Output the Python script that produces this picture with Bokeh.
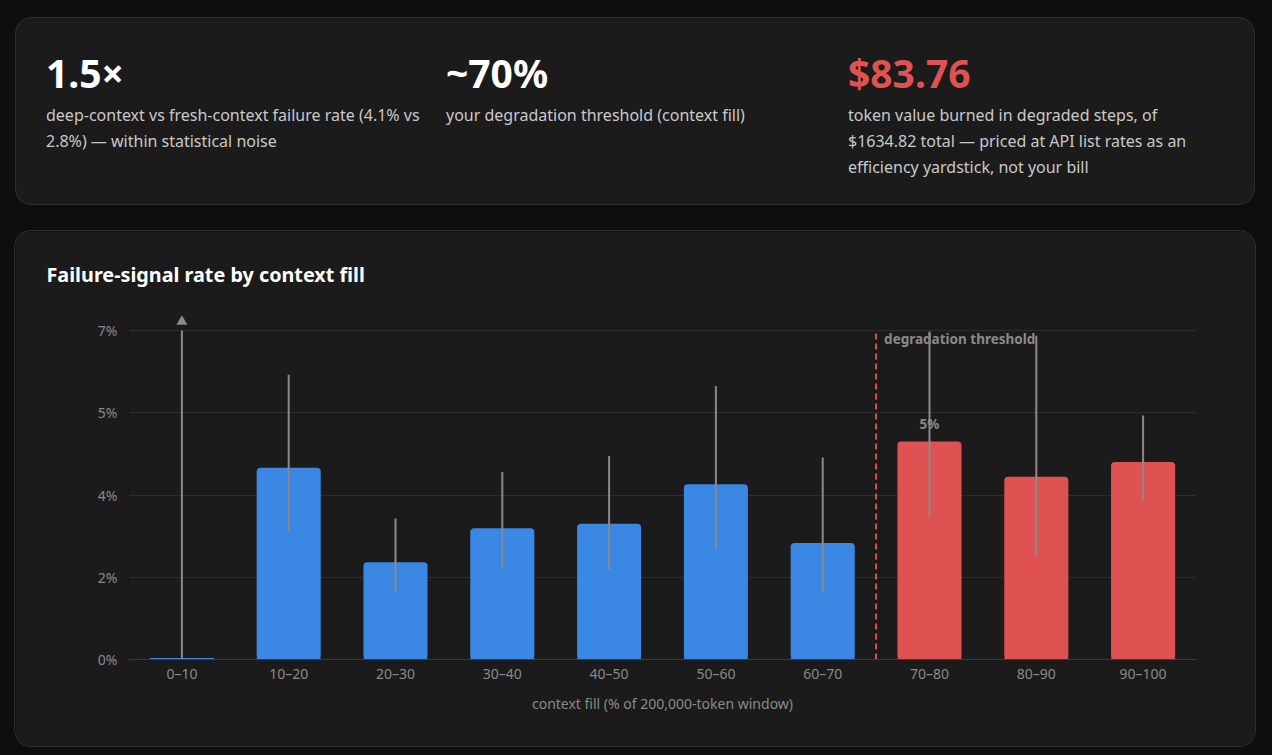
import numpy as np
from bokeh.plotting import figure
from bokeh.layouts import column
from bokeh.models import (Range1d, FactorRange, FixedTicker, CustomJSTickFormatter,
                          ColumnDataSource, Div)
from bokeh.embed import file_html
from bokeh.resources import INLINE
from bokeh.core.properties import value

# ---- data -------------------------------------------------------------
categories = ["0–10", "10–20", "20–30", "30–40", "40–50",
              "50–60", "60–70", "70–80", "80–90", "90–100"]
failure_rate = [0.0, 4.08, 2.07, 2.79, 2.89, 3.73, 2.48, 4.64, 3.89, 4.20]   # %
ci_low = [0.0, 2.74, 1.43, 1.94, 1.91, 2.37, 1.43, 3.04, 2.19, 3.38]         # %
ci_high = [9.5, 6.06, 3.00, 3.99, 4.33, 5.82, 4.30, 6.98, 6.89, 5.19]        # %
threshold_fill = 70                                                         # % of window
y_ticks = [0, 1.75, 3.5, 5.25, 7.0]

headline_values = ["1.5×", "~70%", "$83.76"]
headline_captions = [
    ["deep-context vs fresh-context failure rate (4.1% vs",
     "2.8%) — within statistical noise"],
    ["your degradation threshold (context fill)"],
    ["token value burned in degraded steps, of",
     "$1634.82 total — priced at API list rates as an",
     "efficiency yardstick, not your bill"],
]
chart_title = "Failure-signal rate by context fill"
x_label = "context fill (% of 200,000-token window)"

# ---- style ------------------------------------------------------------
PAGE = "#0e0e0e"
CARD = "#1b1b1b"
CARD_BORDER = "#2e2e2e"
BLUE = "#3a87e4"
RED = "#e05252"
MUTED = "#8a8a8a"
CAPTION = "#c9c9c9"
FONT = "Noto Sans"
AXIS_FONT_SIZE = "14px"

W, H = 1272, 755
CARD_X, CARD_W = 15, 1240
TOP_CARD_Y, TOP_CARD_H = 17, 188
CHART_CARD_Y, CHART_CARD_H = 231, 515

# plot frame, page pixels
FRAME_L, FRAME_R, FRAME_T, FRAME_B = 128, 1196, 310, 659
GRID_TOP = 330                       # pixel row of the top tick
Y_MAX = y_ticks[-1]
px_per_unit = (FRAME_B - GRID_TOP) / Y_MAX
y_end = (FRAME_B - FRAME_T) / px_per_unit

# ---- headline card -----------------------------------------------------
col_x = [30, 430, 832]
value_colors = ["#ffffff", "#ffffff", RED]
blocks = []
for x0, val, col, lines in zip(col_x, headline_values, value_colors, headline_captions):
    blocks.append(
        f'<div style="position:absolute;left:{x0}px;top:35.4px;font-size:39px;'
        f'line-height:39px;font-weight:700;color:{col};white-space:nowrap;">{val}</div>'
        f'<div style="position:absolute;left:{x0}px;top:84px;font-size:16px;'
        f'line-height:26px;color:{CAPTION};white-space:nowrap;">{"<br>".join(lines)}</div>'
    )
top_html = (
    f'<div style="position:relative;box-sizing:border-box;width:{CARD_W}px;'
    f'height:{TOP_CARD_H}px;background:{CARD};border:1px solid {CARD_BORDER};'
    f'border-radius:16px;font-family:\'{FONT}\',sans-serif;">' + "".join(blocks) + "</div>"
)
top_card = Div(text=top_html, width=CARD_W, height=TOP_CARD_H,
               margin=(TOP_CARD_Y, 0, 0, CARD_X))

# ---- chart card --------------------------------------------------------
p = figure(width=CARD_W, height=CHART_CARD_H,
           x_range=FactorRange(*categories),
           y_range=Range1d(0, y_end),
           output_backend="svg", toolbar_location=None,
           min_border_left=FRAME_L - CARD_X,
           min_border_right=CARD_X + CARD_W - FRAME_R,
           min_border_top=FRAME_T - CHART_CARD_Y,
           min_border_bottom=CHART_CARD_Y + CHART_CARD_H - FRAME_B,
           margin=(CHART_CARD_Y - TOP_CARD_Y - TOP_CARD_H, 0, 0, CARD_X),
           styles={"border-radius": "16px", "overflow": "hidden",
                   "box-shadow": f"0 0 0 1px {CARD_BORDER}"})
p.background_fill_color = CARD
p.border_fill_color = CARD
p.outline_line_color = None

p.title.text = chart_title
p.title.align = "left"
p.title.offset = 46 - FRAME_L
p.title.standoff = 45
p.title.text_color = "#ffffff"
p.title.text_font = FONT
p.title.text_font_size = "19.8px"
p.title.text_font_style = "bold"

# grid & axes
p.xgrid.visible = False
p.ygrid.ticker = FixedTicker(ticks=y_ticks)
p.ygrid.grid_line_color = "#2d2d2d"
p.ygrid.grid_line_width = 1

p.yaxis.ticker = FixedTicker(ticks=y_ticks)
p.yaxis.formatter = CustomJSTickFormatter(code="return Math.round(tick) + '%'")
p.yaxis.axis_line_color = None
p.yaxis.major_tick_line_color = None
p.yaxis.minor_tick_line_color = None
p.yaxis.major_tick_out = 0
p.yaxis.minor_tick_out = 0
p.yaxis.major_label_standoff = 11
p.yaxis.major_label_text_color = MUTED
p.yaxis.major_label_text_font = FONT
p.yaxis.major_label_text_font_size = AXIS_FONT_SIZE

p.xaxis.axis_line_color = "#3a3a3a"
p.xaxis.major_tick_line_color = None
p.xaxis.minor_tick_line_color = None
p.xaxis.major_tick_out = 0
p.xaxis.minor_tick_out = 0
p.xaxis.major_label_standoff = 4
p.xaxis.major_label_text_color = MUTED
p.xaxis.major_label_text_font = FONT
p.xaxis.major_label_text_font_size = AXIS_FONT_SIZE
p.xaxis.axis_label = x_label
p.xaxis.axis_label_standoff = 8
p.xaxis.axis_label_text_color = MUTED
p.xaxis.axis_label_text_font = FONT
p.xaxis.axis_label_text_font_size = AXIS_FONT_SIZE
p.xaxis.axis_label_text_font_style = "normal"

# ---- bars, intervals ---------------------------------------------------
bar_colors = [RED if int(c.split("–")[0]) >= threshold_fill else BLUE for c in categories]
src = ColumnDataSource(dict(
    cat=categories, rate=failure_rate, lo=ci_low,
    hi=np.minimum(ci_high, Y_MAX), color=bar_colors,
))

# thin baseline sliver so empty bins remain visible
p.vbar(x="cat", bottom=0, top=0, width=0.6, source=src,
       fill_color=None, line_color="color", line_width=3)
p.vbar(x="cat", top="rate", width=0.6, source=src,
       fill_color="color", line_color=None, border_radius=4)
p.segment(x0="cat", y0="lo", x1="cat", y1="hi", source=src,
          line_color=MUTED, line_width=2)

# arrow heads where the interval runs past the axis
over = [c for c, h in zip(categories, ci_high) if h > Y_MAX]
p.scatter(x=over, y=[Y_MAX + 9 / px_per_unit] * len(over), marker="triangle",
          size=11, fill_color=MUTED, line_color=None)

# peak bar value
peak = int(np.argmax(failure_rate))
p.text(x=[categories[peak]], y=[failure_rate[peak]],
       text=[f"{failure_rate[peak]:.0f}%"], y_offset=-8,
       text_align="center", text_baseline="bottom",
       text_color=MUTED, text_font=value(FONT), text_font_size="13.5px",
       text_font_style="bold")

# degradation threshold marker (bin boundary)
thr_x = next(i for i, c in enumerate(categories) if int(c.split("–")[0]) >= threshold_fill)
p.segment(x0=[thr_x], y0=[0], x1=[thr_x], y1=[Y_MAX],
          line_color=RED, line_width=2, line_dash="6 4")
p.text(x=[thr_x], y=[Y_MAX], text=["degradation threshold"], x_offset=8, y_offset=-1,
       text_align="left", text_baseline="top",
       text_color=MUTED, text_font=value(FONT), text_font_size="13.5px",
       text_font_style="bold")

page = column(top_card, p, width=W, height=H, spacing=0,
              styles={"background-color": PAGE})

open("out.html", "w").write(file_html(page, INLINE))
